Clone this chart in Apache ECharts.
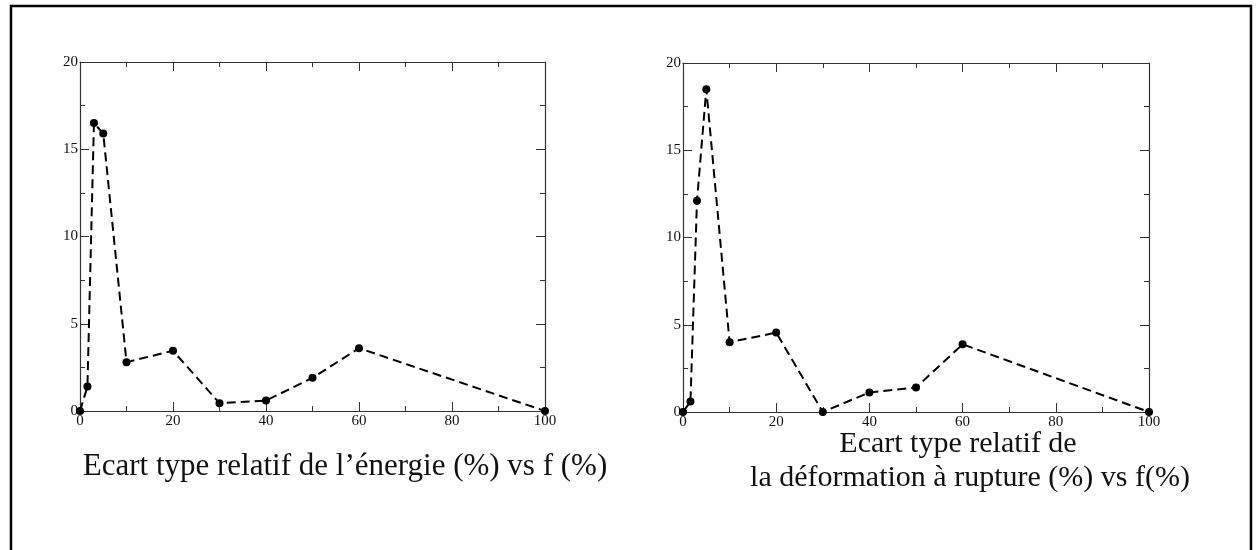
<!DOCTYPE html>
<html><head><meta charset="utf-8">
<script src="https://cdn.jsdelivr.net/npm/echarts@6/dist/echarts.min.js"></script>
<style>html,body{margin:0;padding:0;background:#fff}#c{width:1256px;height:550px}</style>
</head><body><div id="c"></div>
<script>
const fValues = [0, 1.6, 3, 5, 10, 20, 30, 40, 50, 60, 100];
const energyStd = [0, 1.4, 16.5, 15.9, 2.8, 3.45, 0.45, 0.6, 1.9, 3.6, 0];
const deformationStd = [0, 0.6, 12.1, 18.5, 4.0, 4.55, 0, 1.12, 1.4, 3.88, 0];
const xTicks = [0, 20, 40, 60, 80, 100];
const yTicks = [0, 5, 10, 15, 20];
const captionLeft = "Ecart type relatif de l\u2019énergie (%) vs f (%)";
const captionRightLine1 = "Ecart type relatif de";
const captionRightLine2 = "la déformation à rupture (%) vs f(%)";

const axisColor = '#333';
const tickFont = {fontFamily: 'Liberation Serif', fontSize: 15, color: '#111'};

function xAxisPair(gi) {
  return [{
    type: 'value', gridIndex: gi, min: 0, max: 100, interval: 20, position: 'bottom',
    axisLine: {show: true, onZero: false, lineStyle: {color: axisColor, width: 1.2}},
    axisTick: {show: true, inside: true, length: 9, lineStyle: {color: axisColor}},
    minorTick: {show: true, splitNumber: 2, length: 5, lineStyle: {color: axisColor}},
    axisLabel: Object.assign({margin: 3, showMinLabel: true, showMaxLabel: true}, tickFont),
    splitLine: {show: false}
  }, {
    type: 'value', gridIndex: gi, min: 0, max: 100, interval: 20, position: 'top',
    axisLine: {show: true, onZero: false, lineStyle: {color: axisColor, width: 1.2}},
    axisTick: {show: true, inside: true, length: 9, lineStyle: {color: axisColor}},
    minorTick: {show: true, splitNumber: 2, length: 5, lineStyle: {color: axisColor}},
    axisLabel: {show: false}, splitLine: {show: false}
  }];
}
function yAxisPair(gi) {
  return [{
    type: 'value', gridIndex: gi, min: 0, max: 20, interval: 5, position: 'left',
    axisLine: {show: true, onZero: false, lineStyle: {color: axisColor, width: 1.2}},
    axisTick: {show: true, inside: true, length: 9, lineStyle: {color: axisColor}},
    minorTick: {show: true, splitNumber: 2, length: 5, lineStyle: {color: axisColor}},
    axisLabel: Object.assign({margin: 2, showMinLabel: true, showMaxLabel: true}, tickFont),
    splitLine: {show: false}
  }, {
    type: 'value', gridIndex: gi, min: 0, max: 20, interval: 5, position: 'right',
    axisLine: {show: true, onZero: false, lineStyle: {color: axisColor, width: 1.2}},
    axisTick: {show: true, inside: true, length: 9, lineStyle: {color: axisColor}},
    minorTick: {show: true, splitNumber: 2, length: 5, lineStyle: {color: axisColor}},
    axisLabel: {show: false}, splitLine: {show: false}
  }];
}
function mk(xs, ys) { return xs.map((x, i) => [x, ys[i]]); }

const chart = echarts.init(document.getElementById('c'), null, {renderer: 'canvas'});
const seriesStyle = {
  type: 'line', symbol: 'circle', symbolSize: 8, showSymbol: true,
  itemStyle: {color: '#000'},
  lineStyle: {color: '#000', width: 2, type: [9, 5]},
  animation: false
};
chart.setOption({
  animation: false,
  backgroundColor: '#fff',
  grid: [
    {left: 80, top: 62, width: 465, height: 349},
    {left: 683, top: 63, width: 466, height: 349}
  ],
  xAxis: [...xAxisPair(0), ...xAxisPair(1)],
  yAxis: [...yAxisPair(0), ...yAxisPair(1)],
  series: [
    Object.assign({}, seriesStyle, {xAxisIndex: 0, yAxisIndex: 0, data: mk(fValues, energyStd)}),
    Object.assign({}, seriesStyle, {xAxisIndex: 2, yAxisIndex: 2, data: mk(fValues, deformationStd)})
  ],
  graphic: [
    {type: 'rect', shape: {x: 11, y: 6, width: 1240, height: 560}, style: {fill: 'none', stroke: '#000', lineWidth: 2.5}},
    {type: 'text', x: 345, y: 467, style: {text: captionLeft, font: '31px "Liberation Serif"', fill: '#111', align: 'center', verticalAlign: 'middle'}},
    {type: 'text', x: 958, y: 444, style: {text: captionRightLine1, font: '30px "Liberation Serif"', fill: '#111', align: 'center', verticalAlign: 'middle'}},
    {type: 'text', x: 970, y: 478, style: {text: captionRightLine2, font: '30px "Liberation Serif"', fill: '#111', align: 'center', verticalAlign: 'middle'}}
  ]
});
</script></body></html>
